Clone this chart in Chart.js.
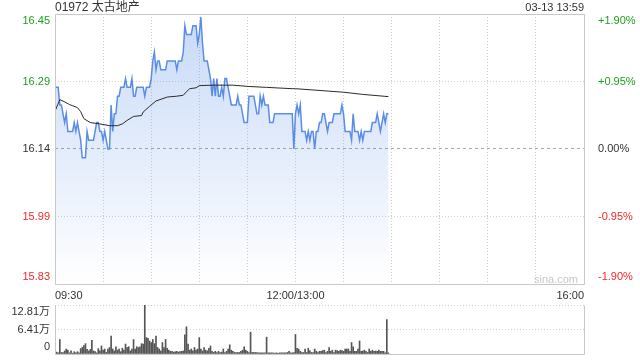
<!DOCTYPE html>
<html>
<head>
<meta charset="utf-8">
<title>01972 太古地产</title>
<script src="https://cdn.jsdelivr.net/npm/chart.js@4.4.1/dist/chart.umd.min.js"></script>
<style>
  html, body { margin: 0; padding: 0; background: #fff; }
  #wrap { position: relative; width: 640px; height: 360px; overflow: hidden;
          font-family: "Liberation Sans", Arial, "Noto Sans CJK SC", sans-serif; }
  #priceBox { position: absolute; left: 0; top: 0; width: 640px; height: 300px; }
  #volBox { position: absolute; left: 0; top: 300px; width: 640px; height: 60px; }
  .txt { position: absolute; white-space: nowrap; line-height: 14px; color: #333; }
  #title { left: 55px; top: 0px; font-size: 12px; }
  #stamp { right: 56px; top: 0px; font-size: 11px; }
  #mark { right: 62px; top: 272px; font-size: 11px; color: #c8c8c8; }
</style>
</head>
<body>
<div id="wrap">
  <div id="priceBox"><canvas id="priceChart" width="640" height="300"></canvas></div>
  <div id="volBox"><canvas id="volChart" width="640" height="60"></canvas></div>
  <div class="txt" id="title">01972 太古地产</div>
  <div class="txt" id="stamp">03-13 13:59</div>
  <div class="txt" id="mark">sina.com</div>
</div>
<script>
// previous close and the +/- range shown on the price axis
const prevClose = 16.14;
const rangePct = 1.9;

// x axis: minutes since 09:30 (lunch break removed), 330 minutes in the session
const sessionMinutes = 330;
const timeTickMinutes = [0, 150, 330];
const timeTickLabels = ['09:30', '12:00/13:00', '16:00'];

// tick labels, bottom to top
const priceTickLabels = ['15.83', '15.99', '16.14', '16.29', '16.45'];
const pctTicks = [-1.9, -0.95, 0, 0.95, 1.9];
const pctTickLabels = ['-1.90%', '-0.95%', '0.00%', '+0.95%', '+1.90%'];
const volTicks = [0, 64050, 128100];
const volTickLabels = ['0', '6.41万', '12.81万'];

// last price, one value per minute from 09:30
const priceValues = [
  16.28, 16.28, 16.28, 16.24, 16.24, 16.22, 16.20, 16.22, 16.18, 16.18,
  16.18, 16.18, 16.20, 16.18, 16.20, 16.18, 16.16, 16.12, 16.12, 16.12,
  16.18, 16.16, 16.16, 16.16, 16.16, 16.18, 16.20, 16.20, 16.18, 16.18,
  16.16, 16.18, 16.16, 16.14, 16.14, 16.24, 16.18, 16.22, 16.22, 16.26,
  16.26, 16.28, 16.28, 16.28, 16.30, 16.28, 16.28, 16.28, 16.30, 16.26,
  16.26, 16.28, 16.28, 16.28, 16.28, 16.28, 16.26, 16.28, 16.28, 16.28,
  16.30, 16.34, 16.36, 16.32, 16.34, 16.34, 16.32, 16.32, 16.32, 16.32,
  16.34, 16.34, 16.34, 16.34, 16.34, 16.34, 16.32, 16.34, 16.34, 16.34,
  16.36, 16.42, 16.40, 16.40, 16.40, 16.40, 16.42, 16.42, 16.42, 16.38,
  16.40, 16.44, 16.38, 16.34, 16.34, 16.34, 16.32, 16.30, 16.26, 16.30,
  16.26, 16.30, 16.26, 16.26, 16.28, 16.26, 16.30, 16.30, 16.28, 16.26,
  16.24, 16.24, 16.24, 16.24, 16.26, 16.24, 16.24, 16.22, 16.20, 16.20,
  16.20, 16.26, 16.26, 16.26, 16.26, 16.24, 16.22, 16.22, 16.26, 16.24,
  16.26, 16.24, 16.24, 16.24, 16.20, 16.20, 16.20, 16.22, 16.22, 16.22,
  16.22, 16.22, 16.22, 16.22, 16.22, 16.22, 16.22, 16.22, 16.22, 16.14,
  16.22, 16.24, 16.22, 16.24, 16.18, 16.18, 16.18, 16.16, 16.18, 16.16,
  16.18, 16.18, 16.14, 16.18, 16.18, 16.20, 16.20, 16.22, 16.22, 16.20,
  16.18, 16.20, 16.20, 16.20, 16.22, 16.22, 16.22, 16.22, 16.22, 16.24,
  16.22, 16.18, 16.18, 16.18, 16.18, 16.16, 16.22, 16.18, 16.18, 16.18,
  16.16, 16.18, 16.16, 16.18, 16.18, 16.18, 16.18, 16.18, 16.20, 16.20,
  16.20, 16.22, 16.20, 16.18, 16.20, 16.22, 16.20, 16.22, 16.22
];

// average price line, read at its turning points
const avgMinutes = [0, 3, 5, 9, 14, 16, 18, 22, 28, 34, 39, 42, 45, 49, 54, 55, 59, 63,
  70, 76, 80, 82, 84, 88, 90, 99, 111, 121, 132, 148, 150, 180, 192, 208];
const avgValues = [16.226, 16.252, 16.249, 16.241, 16.234, 16.225, 16.209, 16.200, 16.197,
  16.193, 16.193, 16.197, 16.205, 16.214, 16.216, 16.224, 16.237, 16.249, 16.258, 16.260,
  16.262, 16.270, 16.277, 16.279, 16.284, 16.285, 16.285, 16.282, 16.280, 16.277, 16.277,
  16.269, 16.264, 16.259];

// traded volume (shares) per minute
const volumeValues = [
  36000, 5000, 3000, 38000, 4000, 4000, 8000, 13000, 10000, 3000,
  8000, 2000, 6000, 3000, 6000, 3000, 14000, 17000, 22000, 27000,
  12000, 8000, 12000, 36000, 8000, 6000, 3000, 14000, 8000, 21000,
  10000, 13000, 4000, 13000, 17000, 47000, 13000, 8000, 19000, 10000,
  13000, 6000, 15000, 10000, 26000, 17000, 19000, 8000, 13000, 38000,
  13000, 19000, 17000, 19000, 27000, 26000, 128100, 43000, 41000, 34000,
  30000, 38000, 27000, 47000, 17000, 13000, 8000, 30000, 17000, 38000,
  15000, 10000, 7000, 7000, 5000, 6000, 7000, 5000, 6000, 7000,
  8000, 50000, 71000, 26000, 10000, 13000, 8000, 17000, 10000, 13000,
  43000, 13000, 8000, 17000, 10000, 8000, 15000, 21000, 7000, 4000,
  7000, 4000, 7000, 4000, 5000, 13000, 4000, 7000, 13000, 24000,
  10000, 7000, 4000, 4000, 4000, 4000, 7000, 10000, 19000, 10000,
  7000, 4000, 57000, 4000, 4000, 4000, 4000, 3000, 3000, 3000,
  3000, 3000, 44000, 3000, 3000, 3000, 3000, 2000, 3000, 2000,
  3000, 3000, 3000, 3000, 3000, 4000, 7000, 3000, 3000, 4000,
  51000, 15000, 13000, 7000, 4000, 4000, 13000, 4000, 15000, 8000,
  4000, 4000, 13000, 7000, 4000, 7000, 7000, 9000, 10000, 4000,
  7000, 17000, 7000, 10000, 4000, 10000, 9000, 7000, 10000, 9000,
  7000, 13000, 13000, 13000, 7000, 30000, 19000, 7000, 7000, 13000,
  34000, 7000, 8000, 10000, 7000, 4000, 13000, 7000, 10000, 7000,
  8000, 7000, 10000, 7000, 7000, 7000, 3000, 90000, 3000
];

const UP = '#1e9e1e';
const DOWN = '#f02828';
const FLAT = '#333333';
const GRID = '#cfcfcf';
const FRAME = '#c8c8c8';

Chart.defaults.font.family = '"Liberation Sans", Arial, "Noto Sans CJK SC", sans-serif';
Chart.defaults.font.size = 11;
Chart.defaults.color = '#333';

const priceMin = prevClose * (1 - rangePct / 100);
const priceMax = prevClose * (1 + rangePct / 100);
const priceTicks = pctTicks.map(p => prevClose * (1 + p / 100));

// first label sits above its line, last label below it (extra empty line shifts it)
function edgeLabel(text, index, count) {
  if (index === 0) return [text, ''];
  if (index === count - 1) return ['', text];
  return text;
}

function colorForSign(v) {
  if (v > 1e-9) return UP;
  if (v < -1e-9) return DOWN;
  return FLAT;
}

function fixWidth(width) {
  return (scale) => {
    scale.width = width;
    scale.paddingTop = 0;
    scale.paddingBottom = 0;
  };
}

const framePlugin = {
  id: 'frame',
  afterDraw(chart, args, opts) {
    const { ctx, chartArea: a } = chart;
    const l = Math.round(a.left) + 0.5, r = Math.round(a.right) + 0.5;
    const t = Math.round(a.top) + 0.5, b = Math.round(a.bottom) + 0.5;
    ctx.save();
    ctx.strokeStyle = FRAME;
    ctx.lineWidth = 1;
    ctx.beginPath();
    if (opts.top) { ctx.moveTo(l, t); ctx.lineTo(r, t); }
    ctx.moveTo(l, t); ctx.lineTo(l, b);
    ctx.moveTo(r, t); ctx.lineTo(r, b);
    ctx.moveTo(l, b); ctx.lineTo(r, b);
    ctx.stroke();
    ctx.restore();
  }
};

const pricePoints = priceValues.map((v, i) => ({ x: i, y: v }));
const avgPoints = avgMinutes.map((m, i) => ({ x: m, y: avgValues[i] }));

new Chart(document.getElementById('priceChart'), {
  type: 'line',
  data: {
    datasets: [
      {
        label: '均价',
        data: avgPoints,
        borderColor: '#2b2b2b',
        borderWidth: 1,
        pointRadius: 0,
        fill: false,
        order: 0
      },
      {
        label: '价格',
        data: pricePoints,
        borderColor: '#5a8de6',
        borderWidth: 1.5,
        pointRadius: 0,
        tension: 0,
        fill: 'start',
        order: 1,
        backgroundColor: (c) => {
          const area = c.chart.chartArea;
          if (!area) return 'rgba(70,130,230,0.15)';
          const g = c.chart.ctx.createLinearGradient(0, area.top, 0, area.bottom);
          g.addColorStop(0, 'rgba(70,130,230,0.30)');
          g.addColorStop(1, 'rgba(70,130,230,0.0)');
          return g;
        }
      }
    ]
  },
  options: {
    responsive: false,
    animation: false,
    events: [],
    layout: { padding: { top: 14, left: 0, right: 0, bottom: 0 } },
    plugins: { legend: { display: false }, tooltip: { enabled: false }, frame: { top: true } },
    scales: {
      x: {
        type: 'linear',
        min: 0,
        max: sessionMinutes,
        afterBuildTicks: (scale) => {
          const ticks = [];
          for (let m = 0; m <= sessionMinutes; m += 30) ticks.push({ value: m });
          scale.ticks = ticks;
        },
        afterFit: (scale) => {
          scale.height = 16;
          scale.paddingLeft = 0;
          scale.paddingRight = 0;
        },
        grid: { color: GRID, drawTicks: false },
        border: { display: false, dash: [1, 2] },
        ticks: {
          autoSkip: false,
          maxRotation: 0,
          align: 'inner',
          padding: 5,
          color: '#333',
          callback: (value) => {
            const i = timeTickMinutes.indexOf(value);
            return i >= 0 ? timeTickLabels[i] : '';
          }
        }
      },
      y: {
        position: 'left',
        min: priceMin,
        max: priceMax,
        afterBuildTicks: (scale) => { scale.ticks = priceTicks.map(v => ({ value: v })); },
        afterFit: fixWidth(55),
        grid: {
          drawTicks: false,
          color: (c) => (c.tick && Math.abs(c.tick.value - prevClose) < 1e-6 ? '#a8a8a8' : GRID)
        },
        border: {
          display: false,
          dash: (c) => (c.tick && Math.abs(c.tick.value - prevClose) < 1e-6 ? [3, 3] : [1, 2])
        },
        ticks: {
          autoSkip: false,
          padding: 5,
          color: (c) => colorForSign(c.tick.value - prevClose),
          callback: (value, index, ticks) => edgeLabel(priceTickLabels[index], index, ticks.length)
        }
      },
      pct: {
        position: 'right',
        min: -rangePct,
        max: rangePct,
        afterBuildTicks: (scale) => { scale.ticks = pctTicks.map(v => ({ value: v })); },
        afterFit: fixWidth(56),
        grid: { display: false },
        border: { display: false },
        ticks: {
          autoSkip: false,
          padding: 6,
          color: (c) => colorForSign(c.tick.value),
          callback: (value, index, ticks) => edgeLabel(pctTickLabels[index], index, ticks.length)
        }
      }
    }
  },
  plugins: [framePlugin]
});

const volumePoints = volumeValues.map((v, i) => ({ x: i, y: v }));

new Chart(document.getElementById('volChart'), {
  type: 'bar',
  data: {
    datasets: [{
      label: '成交量',
      data: volumePoints,
      backgroundColor: '#555555',
      borderWidth: 0,
      barThickness: 1
    }]
  },
  options: {
    responsive: false,
    animation: false,
    events: [],
    layout: { padding: { top: 5, left: 0, right: 56, bottom: 6 } },
    plugins: { legend: { display: false }, tooltip: { enabled: false }, frame: { top: false } },
    scales: {
      x: {
        type: 'linear',
        min: 0,
        max: sessionMinutes,
        offset: false,
        display: false
      },
      y: {
        position: 'left',
        min: 0,
        max: volTicks[volTicks.length - 1],
        afterBuildTicks: (scale) => { scale.ticks = volTicks.map(v => ({ value: v })); },
        afterFit: fixWidth(55),
        grid: { drawTicks: false, color: (c) => (c.index === 0 ? 'rgba(0,0,0,0)' : GRID) },
        border: { display: false, dash: [1, 2] },
        ticks: {
          autoSkip: false,
          padding: 5,
          color: '#333',
          callback: (value, index, ticks) => edgeLabel(volTickLabels[index], index, ticks.length)
        }
      }
    }
  },
  plugins: [framePlugin]
});
</script>
</body>
</html>
